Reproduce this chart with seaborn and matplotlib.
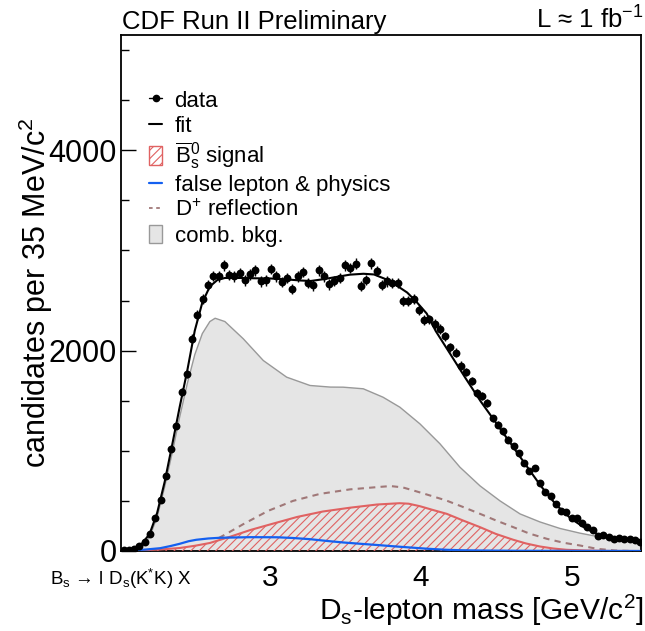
import numpy as np
import matplotlib
matplotlib.use("Agg")
import matplotlib.pyplot as plt
import seaborn as sns
from matplotlib.lines import Line2D
from matplotlib.patches import Patch
from matplotlib.ticker import FuncFormatter

# ---------------- data ----------------
bin_lo = 2.01
bin_w = 0.035
counts = [5, 5, 18, 45, 88, 165, 334, 514, 753, 1023,
          1252, 1585, 1768, 2118, 2357, 2517, 2657, 2745, 2742, 2850,
          2757, 2742, 2773, 2700, 2760, 2800, 2690, 2700, 2816, 2740,
          2683, 2727, 2617, 2740, 2783, 2677, 2650, 2800, 2742, 2660,
          2693, 2723, 2850, 2826, 2866, 2643, 2707, 2873, 2793, 2657,
          2690, 2677, 2673, 2493, 2497, 2513, 2407, 2303, 2312, 2267,
          2217, 2144, 2034, 1978, 1851, 1784, 1695, 1579, 1545, 1475,
          1325, 1262, 1193, 1112, 1046, 980, 880, 797, 826, 677,
          587, 544, 471, 404, 394, 327, 327, 277, 238, 205,
          148, 155, 138, 122, 132, 122, 115, 105, 88]

fit_x = [2.01, 2.05, 2.10, 2.15, 2.20, 2.25, 2.30, 2.35, 2.40, 2.45, 2.50,
         2.55, 2.60, 2.65, 2.70, 2.80, 2.90, 3.00, 3.10, 3.20, 3.27, 3.35,
         3.44, 3.53, 3.62, 3.69, 3.77, 3.84, 3.91, 3.97, 4.04, 4.10, 4.20,
         4.30, 4.40, 4.50, 4.60, 4.70, 4.80, 4.90, 5.00, 5.10, 5.20, 5.30,
         5.40, 5.463]
fit_y = [0, 8, 30, 75, 170, 380, 690, 1060, 1440, 1800, 2200,
         2480, 2640, 2705, 2725, 2725, 2722, 2720, 2712, 2700, 2695, 2712,
         2735, 2758, 2767, 2760, 2712, 2650, 2580, 2490, 2370, 2195, 1958,
         1720, 1490, 1280, 1068, 855, 645, 460, 320, 222, 150, 122,
         105, 97]

comb_x = [2.01, 2.05, 2.10, 2.15, 2.20, 2.25, 2.30, 2.35, 2.40, 2.45, 2.50,
          2.55, 2.60, 2.635, 2.70, 2.822, 2.955, 3.11, 3.265, 3.40, 3.486,
          3.619, 3.75, 3.862, 3.995, 4.128, 4.261, 4.394, 4.527, 4.66,
          4.792, 4.925, 5.058, 5.19, 5.323, 5.463]
comb_y = [0, 3, 15, 45, 140, 340, 640, 980, 1340, 1670, 1960,
          2170, 2290, 2323, 2290, 2118, 1901, 1735, 1652, 1636, 1635,
          1619, 1535, 1435, 1269, 1070, 836, 650, 500, 370,
          290, 225, 178, 140, 108, 76]

refl_x = [2.66, 2.72, 2.822, 2.986, 3.152, 3.331, 3.53, 3.73, 3.80, 3.88,
          3.95, 4.06, 4.17, 4.28, 4.394, 4.50, 4.615, 4.72, 4.837, 4.95,
          5.058, 5.17, 5.29, 5.40]
refl_y = [130, 180, 268, 400, 500, 570, 615, 640, 648, 635,
          605, 555, 504, 440, 371, 305, 238, 175, 122, 82,
          55, 22, 5, 0]

sig_x = [2.01, 2.07, 2.27, 2.40, 2.50, 2.60, 2.73, 2.87, 3.00, 3.18, 3.35,
         3.53, 3.71, 3.86, 3.92, 3.995, 4.08, 4.173, 4.28, 4.394, 4.50,
         4.615, 4.70, 4.792, 4.88, 4.97, 5.10, 5.25, 5.463]
sig_y = [0, 3, 15, 30, 52, 80, 140, 210, 265, 340, 394,
         432, 464, 477, 472, 447, 410, 371, 305, 238, 170,
         112, 75, 45, 25, 12, 5, 1, 0]

fake_x = [2.01, 2.07, 2.17, 2.27, 2.34, 2.40, 2.46, 2.51, 2.59, 2.667, 2.867,
          3.046, 3.15, 3.265, 3.38, 3.486, 3.60, 3.71, 3.82, 3.93, 4.05,
          4.17, 4.28, 4.39, 4.66, 5.0, 5.463]
fake_y = [0, 5, 14, 28, 50, 72, 98, 112, 125, 132, 138,
          137, 130, 118, 100, 85, 72, 60, 47, 35, 22,
          12, 7, 5, 2, 1, 0]

x_ticks = [3, 4, 5]
y_ticks = [0, 2000, 4000]

# ---------------- style ----------------
sns.set_theme(style="ticks")
plt.rcParams["font.family"] = ["Liberation Sans", "DejaVu Sans"]
plt.rcParams["mathtext.fontset"] = "custom"
plt.rcParams["mathtext.rm"] = "Liberation Sans"
plt.rcParams["mathtext.it"] = "Liberation Sans:italic"
plt.rcParams["mathtext.bf"] = "Liberation Sans:bold"
plt.rcParams["mathtext.sf"] = "Liberation Sans"
plt.rcParams["mathtext.default"] = "regular"
plt.rcParams["hatch.linewidth"] = 0.8
for k in ["text.color", "axes.labelcolor", "xtick.color", "ytick.color", "axes.edgecolor"]:
    plt.rcParams[k] = "black"

RED = "#e06262"
BLUE = "#1460f0"
REFL = "#a07878"
GRAY_F = "#e5e5e5"
GRAY_E = "#999999"

fig = plt.figure(figsize=(6.45, 6.31), dpi=100)
ax = fig.add_axes([121 / 645, 1 - 551 / 631, (641 - 121) / 645, (551 - 34.5) / 631])

# comb bkg
ax.fill_between(comb_x, comb_y, 0, facecolor=GRAY_F, edgecolor="none", zorder=1)
sns.lineplot(x=comb_x, y=comb_y, ax=ax, color=GRAY_E, lw=1.0, estimator=None, zorder=2)

# signal (hatched)
ax.fill_between(sig_x, sig_y, 0, facecolor="none", edgecolor=RED, hatch="////",
                linewidth=0, zorder=3)
sns.lineplot(x=sig_x, y=sig_y, ax=ax, color=RED, lw=1.5, estimator=None, zorder=4)

# D+ reflection
sns.lineplot(x=refl_x, y=refl_y, ax=ax, color=REFL, lw=1.5, estimator=None,
             linestyle=(0, (3, 2.5)), zorder=4)

# false lepton & physics
sns.lineplot(x=fake_x, y=fake_y, ax=ax, color=BLUE, lw=1.6, estimator=None, zorder=5)

# fit
sns.lineplot(x=fit_x, y=fit_y, ax=ax, color="black", lw=1.5, estimator=None, zorder=6)

# data
cnt = np.array(counts, dtype=float)
xc = bin_lo + bin_w * (np.arange(len(cnt)) + 0.5)
ax.errorbar(xc, cnt, yerr=np.sqrt(cnt), fmt="none", ecolor="black", elinewidth=1.0,
            capsize=0, zorder=7)
sns.scatterplot(x=xc, y=cnt, ax=ax, color="black", s=32, edgecolor="black",
                linewidth=0, zorder=8)

# axes
ax.set_xlim(2.01, 5.463)
ax.set_ylim(0, 5155)
ax.set_xticks(x_ticks)
ax.set_yticks(y_ticks)
ax.set_xticks(np.arange(2.2, 5.463, 0.2), minor=True)
ax.set_yticks(np.arange(0, 5155, 500), minor=True)
ax.xaxis.set_major_formatter(FuncFormatter(lambda v, p: "$%d$" % round(v)))
ax.tick_params(axis="both", which="both", direction="in", top=False, right=False,
               color="black", width=1.0, labelcolor="black")
ax.tick_params(axis="both", which="major", length=11, labelsize=22)
ax.tick_params(axis="x", which="major", labelsize=21.5)
ax.tick_params(axis="both", which="minor", length=5.5)
ax.tick_params(axis="x", which="major", pad=9)
ax.tick_params(axis="y", which="major", pad=3)
for s in ax.spines.values():
    s.set_linewidth(1.3)
    s.set_color("black")
ax.set_xlabel("")
ax.set_ylabel("")

# texts
fig.text(122 / 645, 1 - 28.5 / 631, "CDF Run II Preliminary", fontsize=18.5, va="baseline")
fig.text(644 / 645, 1 - 28.5 / 631, "L ≈ 1 fb$^{-1}$", fontsize=18.5, va="baseline", ha="right")
fig.text(644 / 645, 1 - 620 / 631, r"D$_{\mathrm{s}}$-lepton mass [GeV/c$^{2}$]",
         fontsize=21.5, ha="right", va="baseline")
fig.text(36 / 645, 1 - 117 / 631, "candidates per 35 MeV/c$^{2}$", fontsize=22,
         rotation=90, ha="center", va="top")
fig.text(50 / 645, 1 - 585 / 631, r"B$_{\mathrm{s}}$ → l D$_{\mathrm{s}}$(K$^{*}$K) X",
         fontsize=13.5, va="baseline")

# legend
handles = [
    Line2D([], [], marker="o", color="black", ms=4.5, lw=1.0),
    Line2D([], [], color="black", lw=1.5),
    Patch(facecolor="white", edgecolor=RED, hatch="////", lw=1.0),
    Line2D([], [], color=BLUE, lw=1.6),
    Line2D([], [], color=REFL, lw=1.3, linestyle=(0, (2, 2))),
    Patch(facecolor=GRAY_F, edgecolor=GRAY_E, lw=1.0),
]
labels = ["data", "fit", r"$\overline{\mathrm{B}}^{0}_{\mathrm{s}}$ signal",
          "false lepton & physics", "D$^{+}$ reflection", "comb. bkg."]
leg = ax.legend(handles, labels, loc="upper left",
                bbox_to_anchor=(149 / 645, 1 - 90 / 631), bbox_transform=fig.transFigure,
                frameon=False, borderpad=0, borderaxespad=0, handlelength=0.6,
                handleheight=0.9, handletextpad=0.55, labelspacing=0.15, fontsize=16)

fig.savefig("out.png", dpi=100)
